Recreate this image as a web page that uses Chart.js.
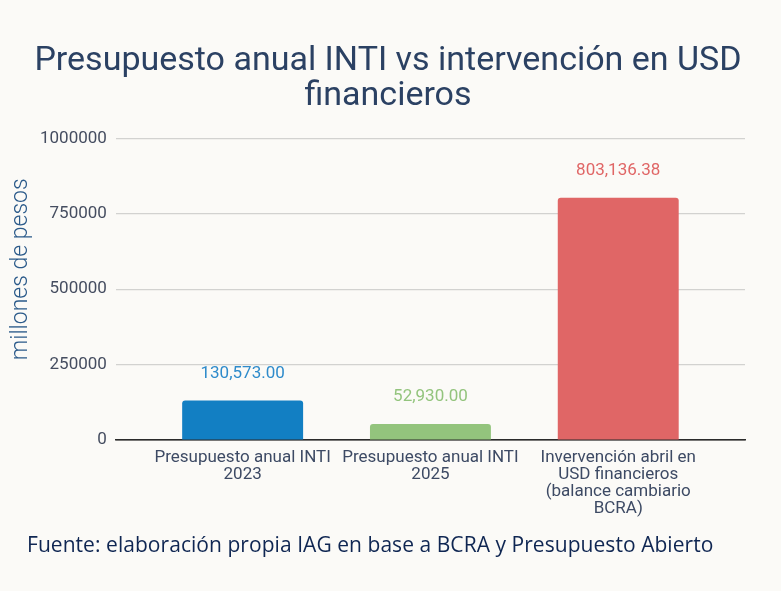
<!DOCTYPE html>
<html>
<head>
<meta charset="utf-8">
<script src="https://cdn.jsdelivr.net/npm/chart.js@4.4.1/dist/chart.umd.min.js"></script>
<style>
  html, body { margin: 0; padding: 0; background: #fbfaf7; }
  #wrap { position: relative; width: 781px; height: 591px; }
  #fuente {
    position: absolute; left: 27px; top: 529px;
    font-family: 'Open Sans', sans-serif; font-size: 21px; line-height: 30px;
    color: #0f2652; white-space: nowrap; letter-spacing: 0.05px;
  }
</style>
</head>
<body>
<div id="wrap">
  <canvas id="myChart"></canvas>
  <div id="fuente">Fuente: elaboración propia IAG en base a BCRA y Presupuesto Abierto</div>
</div>
<script>
const categories = [
  ['Presupuesto anual INTI', '2023'],
  ['Presupuesto anual INTI', '2025'],
  ['Invervención abril en', 'USD financieros', '(balance cambiario', 'BCRA)']
];
const values = [130573.00, 52930.00, 803136.38];
const barColors = ['#127fc3', '#93c47d', '#e06666'];
const labelColors = ['#2e8bcb', '#93c47d', '#e06666'];
const yTicks = [0, 250000, 500000, 750000, 1000000];
const yTitle = 'millones de pesos';

// etiquetas de valor encima de cada barra + titulo del eje y
const valueLabels = {
  id: 'valueLabels',
  afterDatasetsDraw(chart) {
    const ctx = chart.ctx;
    const meta = chart.getDatasetMeta(0);
    ctx.save();
    ctx.font = '17px Roboto';
    ctx.textAlign = 'center';
    ctx.textBaseline = 'middle';
    meta.data.forEach((bar, i) => {
      ctx.fillStyle = labelColors[i];
      const txt = values[i].toLocaleString('en-US', { minimumFractionDigits: 2, maximumFractionDigits: 2 });
      ctx.fillText(txt, bar.x, bar.y - 27);
    });
    const area = chart.chartArea;
    ctx.translate(21, area.top + (area.bottom - area.top) * 0.434);
    ctx.rotate(-Math.PI / 2);
    ctx.font = '300 23px Roboto';
    ctx.fillStyle = '#2b5a8a';
    ctx.fillText(yTitle, 0, 0);
    ctx.restore();
  }
};

const ctx = document.getElementById('myChart').getContext('2d');
new Chart(ctx, {
  type: 'bar',
  data: {
    datasets: [{
      data: categories.map((c, i) => ({ x: i, y: values[i] })),
      backgroundColor: barColors,
      borderRadius: { topLeft: 3, topRight: 3 },
      borderSkipped: 'bottom',
      barPercentage: 0.644,
      categoryPercentage: 1
    }]
  },
  options: {
    responsive: true,
    maintainAspectRatio: false,
    animation: false,
    layout: { padding: { left: 31, right: 36, top: 0, bottom: 73 } },
    scales: {
      x: {
        type: 'linear',
        offset: false,
        min: -0.675,
        max: 2.675,
        afterBuildTicks: (scale) => { scale.ticks = categories.map((c, i) => ({ value: i })); },
        ticks: {
          autoSkip: false,
          maxRotation: 0,
          padding: 1,
          color: '#3d4a64',
          font: { family: 'Roboto', size: 17, lineHeight: 1.0 },
          callback: (v) => categories[v]
        },
        grid: { display: false, offset: false },
        border: { display: true, color: '#2b2b2b', width: 1.5 }
      },
      y: {
        min: 0,
        max: 1000000,
        afterBuildTicks: (scale) => { scale.ticks = yTicks.map(v => ({ value: v })); },
        ticks: {
          padding: 9,
          color: '#454d60',
          font: { family: 'Roboto', size: 17 },
          callback: (v) => String(v)
        },
        grid: {
          color: (c) => c.tick && c.tick.value === 0 ? '#2b2b2b' : '#d2d2d0',
          lineWidth: 1.2,
          drawTicks: false
        },
        border: { display: false }
      }
    },
    plugins: {
      legend: { display: false },
      tooltip: { enabled: false },
      title: {
        display: true,
        text: ['Presupuesto anual INTI vs intervención en USD', 'financieros'],
        color: '#2b4163',
        font: { family: 'Roboto', size: 34, weight: 'normal', lineHeight: 1.02 },
        padding: { top: 44, bottom: 25 }
      }
    }
  },
  plugins: [valueLabels]
});
</script>
</body>
</html>
